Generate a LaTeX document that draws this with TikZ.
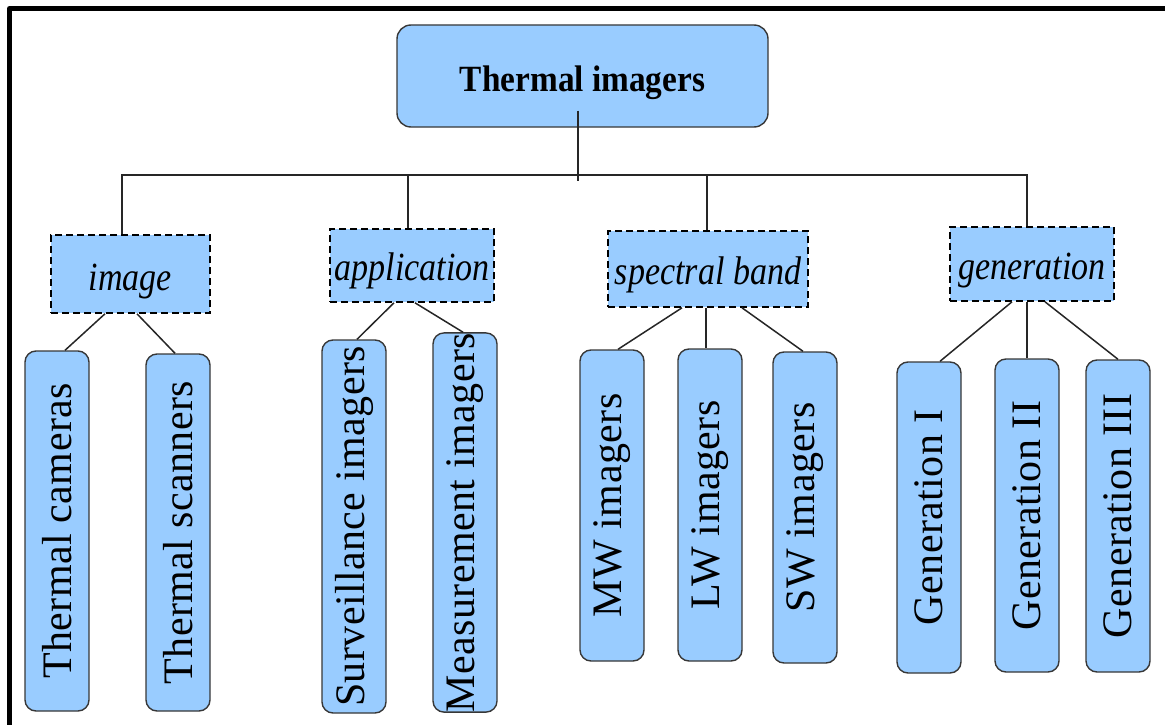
\documentclass[tikz,border=0pt]{standalone}
\usepackage{fontspec}
\setmainfont{Liberation Serif}
\usepackage{graphicx}
\definecolor{boxblue}{RGB}{153,204,255}
\definecolor{edgegray}{RGB}{55,55,55}
% labels are set with zero height/depth so the node centre sits on a chosen offset from the baseline
\newcommand\titlelabel[1]{\raisebox{-16pt}[0pt][0pt]{\scalebox{0.9}[1]{\fontsize{37}{40}\selectfont\bfseries #1}}}
\newcommand\catlabel[2][-15pt]{\raisebox{#1}[0pt][0pt]{\scalebox{0.85}[1]{\fontsize{40}{44}\selectfont\itshape #2}}}
\newcommand\leaflabel[1]{\rotatebox{90}{\fontsize{42}{46}\selectfont\addfontfeature{LetterSpace=1}#1}}
\tikzset{
  titlebox/.style={draw=edgegray, fill=boxblue, rounded corners=14pt, line width=1.4pt,
    minimum width=371pt, minimum height=102pt, inner sep=0pt},
  catbox/.style={draw=black, fill=boxblue, dash pattern=on 7pt off 4pt, line width=1.6pt,
    inner sep=0pt},
  leafbox/.style={draw=edgegray, fill=boxblue, rounded corners=11pt, line width=1.4pt,
    minimum width=64pt, inner sep=0pt},
  link/.style={draw=black!85, line width=1.5pt},
  frameline/.style={draw=black, line width=5pt, line join=round}
}
\begin{document}
\begin{tikzpicture}[x=1pt,y=-1pt]
\useasboundingbox (0,0) rectangle (1165,725);

% outer frame (top and left edges)
\draw[frameline] (9.5,725) -- (9.5,8.5) -- (1165,8.5);

% root
\node[titlebox] (title) at (582.5,76) {\titlelabel{Thermal imagers}};

% classification criteria
\node[catbox, minimum width=159pt, minimum height=78pt] (image) at (130.5,274) {\catlabel[-16pt]{image}};
\node[catbox, minimum width=164pt, minimum height=73pt] (app) at (412,265.5) {\catlabel{application}};
\node[catbox, minimum width=200pt, minimum height=76pt] (spec) at (708,269) {\catlabel{spectral band}};
\node[catbox, minimum width=164pt, minimum height=74pt] (gen) at (1032,264) {\catlabel{generation}};

% leaves
\node[leafbox, minimum height=360pt] (tcam) at (57,531) {\leaflabel{Thermal cameras}};
\node[leafbox, minimum height=357pt] (tscan) at (178,532.5) {\leaflabel{Thermal scanners}};
\node[leafbox, minimum height=373pt] (surv) at (354,526.5) {\leaflabel{Surveillance imagers}};
\node[leafbox, minimum height=379pt] (meas) at (465,522.5) {\leaflabel{Measurement imagers}};
\node[leafbox, minimum height=311pt] (mw) at (612,505.5) {\leaflabel{MW imagers}};
\node[leafbox, minimum height=312pt] (lw) at (710,505) {\leaflabel{LW imagers}};
\node[leafbox, minimum height=311pt] (sw) at (805,507.5) {\leaflabel{SW imagers}};
\node[leafbox, minimum height=311pt] (g1) at (929,517.5) {\leaflabel{Generation I}};
\node[leafbox, minimum height=313pt] (g2) at (1027,515.5) {\leaflabel{Generation II}};
\node[leafbox, minimum height=312pt] (g3) at (1118,516) {\leaflabel{Generation III}};

% bus connecting the root to the criteria
\coordinate (bus) at (0,175);
\coordinate (trunkTop) at ([xshift=-4.5pt,yshift=17pt]title.south);
\coordinate (trunkEnd) at (578,181);
\coordinate (imageTop) at ([xshift=-8.5pt]image.north);
\coordinate (appTop) at ([xshift=-4pt]app.north);
\coordinate (specTop) at ([xshift=-1pt]spec.north);
\coordinate (genTop) at ([xshift=-5pt]gen.north);
\draw[link] (trunkTop) -- (trunkEnd);
\draw[link] (imageTop) -- (imageTop |- bus) -- (genTop |- bus) -- (genTop);
\draw[link] (appTop) -- (appTop |- bus);
\draw[link] (specTop) -- (specTop |- bus);

% criteria to leaves
\draw[link] ([xshift=-25.5pt]image.south) -- ([xshift=8pt]tcam.north);
\draw[link] ([xshift=6.5pt]image.south) -- ([xshift=-3pt]tscan.north);
\draw[link] ([xshift=-18pt]app.south) -- ([xshift=3pt]surv.north);
\draw[link] ([xshift=3pt]app.south) -- ([xshift=-2pt]meas.north);
\draw[link] ([xshift=-26pt]spec.south) -- ([xshift=6pt]mw.north);
\draw[link] ([xshift=-2pt]spec.south) -- ([xshift=-4pt]lw.north);
\draw[link] ([xshift=34pt]spec.south) -- ([xshift=-2pt]sw.north);
\draw[link] ([xshift=-20pt]gen.south) -- ([xshift=11pt]g1.north);
\draw[link] ([xshift=-5pt]gen.south) -- (g2.north);
\draw[link] ([xshift=13pt]gen.south) -- (g3.north);
\end{tikzpicture}
\end{document}
